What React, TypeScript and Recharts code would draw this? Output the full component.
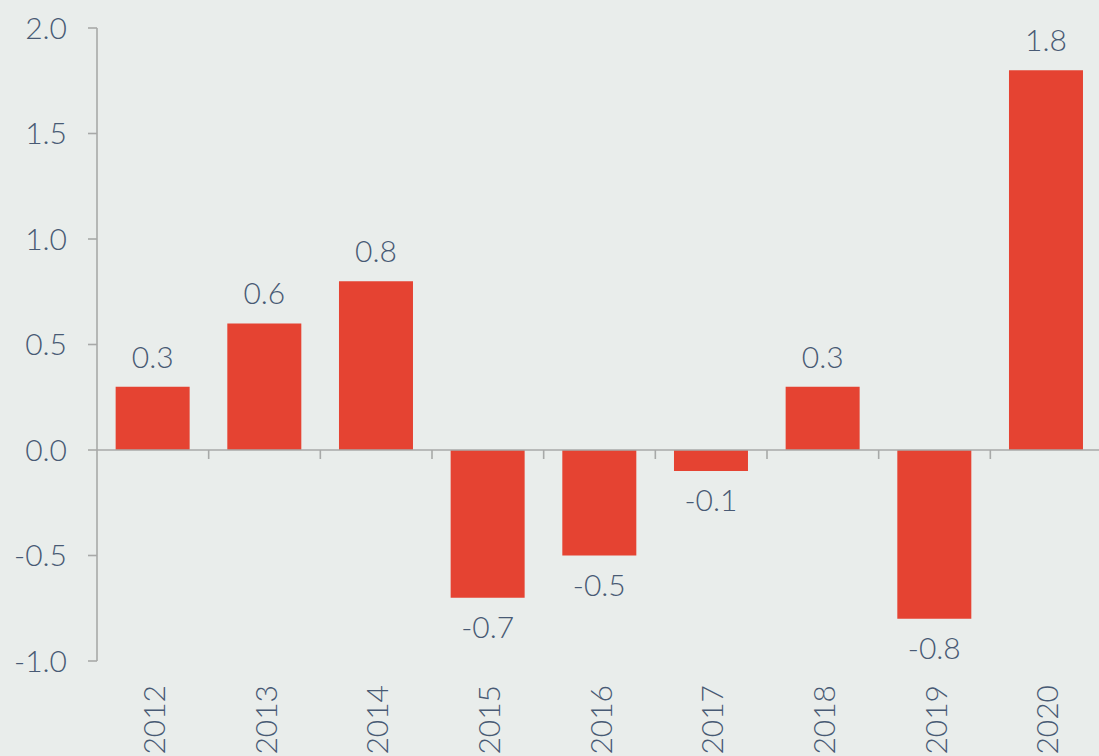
import * as React from "react"
import { BarChart, Bar, XAxis, YAxis, ReferenceLine, LabelList } from "recharts"

const years = ["2012", "2013", "2014", "2015", "2016", "2017", "2018", "2019", "2020"]
const changes = [0.3, 0.6, 0.8, -0.7, -0.5, -0.1, 0.3, -0.8, 1.8]
const yTicks = [-1, -0.5, 0, 0.5, 1, 1.5, 2]

const data = years.map((year, i) => ({ year, change: changes[i] }))

const FONT = "Lato, 'Open Sans', sans-serif"
const TEXT = "#485a74"
const AXIS = "#a7a9a8"
const BAR = "#e54332"
const BG = "#e9edeb"

function YearTick({ x, y, payload }: any) {
  const ty = y + 16
  return (
    <text
      x={x}
      y={ty}
      transform={`rotate(-90, ${x}, ${ty})`}
      textAnchor="end"
      dominantBaseline="central"
      fill={TEXT}
      fontSize={30}
      fontWeight={300}
      fontFamily={FONT}
    >
      {payload.value}
    </text>
  )
}

// zero line with small tick marks between the categories
function ZeroLine({ x1, y1, x2, y2 }: any) {
  const step = (x2 - x1) / years.length
  return (
    <g>
      <line x1={x1} y1={y1} x2={x2} y2={y2} stroke={AXIS} strokeWidth={1.6} />
      {years.slice(1).map((_, i) => (
        <line
          key={i}
          x1={x1 + step * (i + 1)}
          x2={x1 + step * (i + 1)}
          y1={y1}
          y2={y1 + 9}
          stroke={AXIS}
          strokeWidth={1.6}
        />
      ))}
    </g>
  )
}

export default function App() {
  return (
    <div
      style={{
        position: "absolute",
        left: 0,
        top: 0,
        width: 1099,
        height: 756,
        overflow: "hidden",
        background: BG,
      }}
    >
      <BarChart
        width={1102}
        height={800}
        data={data}
        barCategoryGap="16.7%"
        margin={{ top: 28, right: 0, left: 0, bottom: 0 }}
      >
        <XAxis
          dataKey="year"
          axisLine={false}
          tickLine={false}
          interval={0}
          height={139}
          tick={<YearTick />}
        />
        <YAxis
          domain={[-1, 2]}
          ticks={yTicks}
          width={97}
          tickSize={9}
          tickMargin={21}
          stroke={AXIS}
          axisLine={{ stroke: AXIS, strokeWidth: 1.6 }}
          tickLine={{ stroke: AXIS, strokeWidth: 1.6 }}
          tickFormatter={(v: number) => v.toFixed(1)}
          tick={{ fill: TEXT, fontSize: 30, fontWeight: 300, fontFamily: FONT }}
        />
        <ReferenceLine y={0} shape={<ZeroLine />} />
        <Bar dataKey="change" fill={BAR} isAnimationActive={false}>
          <LabelList
            dataKey="change"
            position="top"
            offset={19}
            formatter={(v: any) => Number(v).toFixed(1)}
            fill={TEXT}
            fontSize={30}
            fontWeight={300}
            fontFamily={FONT}
          />
        </Bar>
      </BarChart>
    </div>
  )
}
